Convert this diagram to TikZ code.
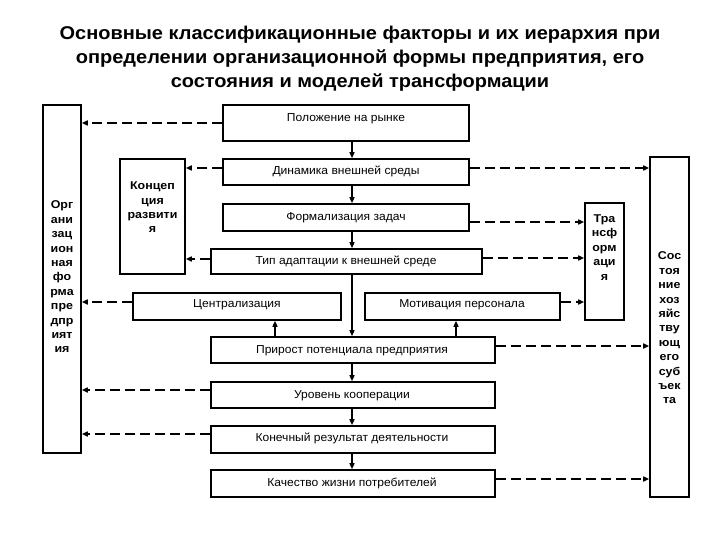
\documentclass[tikz,border=0pt]{standalone}
\usepackage{fontspec}
\setmainfont{Liberation Sans}
\newfontfamily\titlefont[FakeStretch=1.08]{Liberation Sans}
\newfontfamily\lblfont[FakeStretch=1.05]{Liberation Sans}
\newfontfamily\vfont[FakeStretch=1.1]{Liberation Sans}
\usetikzlibrary{fit,arrows.meta}
\tikzset{
  box/.style={draw, line width=1.6pt, rectangle, inner sep=0pt},
  lbl/.style={font=\lblfont\fontsize{11.5}{13}\selectfont, inner sep=0pt},
  vlbl/.style={font=\vfont\bfseries\fontsize{11.3}{14.4}\selectfont, align=center, inner sep=0pt},
  sarrow/.style={line width=1.4pt, -{Triangle[length=6pt,width=5pt]}},
  darrow/.style={line width=2pt, dash pattern=on 10pt off 5pt, -{Triangle[length=6pt,width=5pt]}},
  up/.style={transform canvas={yshift=#1}},
}
\begin{document}
\begin{tikzpicture}[x=1pt,y=-1pt]
\useasboundingbox (0,0) rectangle (720,540);
\node[font=\titlefont\bfseries\fontsize{18.5}{24}\selectfont, align=center] (title) at (360,59)
  {Основные классификационные факторы и их иерархия при\\
   определении организационной формы предприятия, его\\
   состояния и моделей трансформации};
% boxes
\node[box, fit={(43,105)(81,453)}] (L) {};
\node[vlbl] (LT) at (62,277) {Орг\\ани\\зац\\ион\\ная\\фо\\рма\\пре\\дпр\\ият\\ия};
\node[box, fit={(120,159)(185,274)}] (K) {};
\node[vlbl] (KT) at (152.5,207.5) {Концеп\\ция\\развити\\я};
\node[box, fit={(223,105)(469,141)}] (P) {};
\node[lbl] (PT) at (346,118.5) {Положение на рынке};
\node[box, fit={(223,159)(469,185)}] (D) {};
\node[lbl] (DT) at (346,171.5) {Динамика внешней среды};
\node[box, fit={(223,204)(469,231)}] (F) {};
\node[lbl] (FT) at (346,217.5) {Формализация задач};
\node[box, fit={(211,249)(482,274)}] (T) {};
\node[lbl] (TT) at (346,261.5) {Тип адаптации к внешней среде};
\node[box, fit={(133,293)(341,320)}] (C) {};
\node[lbl] (CT) at (237,304.5) {Централизация};
\node[box, fit={(365,293)(560,320)}] (M) {};
\node[lbl] (MT) at (462,304.5) {Мотивация персонала};
\node[box, fit={(211,337)(495,363)}] (Pr) {};
\node[lbl] (PrT) at (352,350.5) {Прирост потенциала предприятия};
\node[box, fit={(211,382)(495,408)}] (U) {};
\node[lbl] (UT) at (352,395.5) {Уровень кооперации};
\node[box, fit={(211,426)(495,453)}] (Kon) {};
\node[lbl] (KonT) at (352,438.5) {Конечный результат деятельности};
\node[box, fit={(211,470)(495,497)}] (Kach) {};
\node[lbl] (KachT) at (352,483.5) {Качество жизни потребителей};
\node[box, fit={(585,203)(624,320)}] (Tr) {};
\node[vlbl] (TrT) at (604.5,247.5) {Тра\\нсф\\орм\\аци\\я};
\node[box, fit={(650,157)(689,497)}] (S) {};
\node[vlbl] (ST) at (669.5,328) {Сос\\тоя\\ние\\хоз\\яйс\\тву\\ющ\\его\\суб\\ъек\\та};
% solid arrows
\coordinate (ax) at (352,0);
\coordinate (ac) at (275,0);
\coordinate (am) at (456,0);
\draw[sarrow] (P.south -| ax) -- (D.north -| ax);
\draw[sarrow] (D.south -| ax) -- (F.north -| ax);
\draw[sarrow] (F.south -| ax) -- (T.north -| ax);
\draw[sarrow] (T.south -| ax) -- (Pr.north -| ax);
\draw[sarrow] (Pr.south -| ax) -- (U.north -| ax);
\draw[sarrow] (U.south -| ax) -- (Kon.north -| ax);
\draw[sarrow] (Kon.south -| ax) -- (Kach.north -| ax);
\draw[sarrow] (Pr.north -| ac) -- (C.south -| ac);
\draw[sarrow] (Pr.north -| am) -- (M.south -| am);
% dashed arrows left
\draw[darrow] (P.west) -- (L.east |- P.west);
\draw[darrow, up=4pt] (D.west) -- (K.east |- D.west);
\draw[darrow, up=2.5pt] (T.west) -- (K.east |- T.west);
\draw[darrow, up=4.5pt] (C.west) -- (L.east |- C.west);
\draw[darrow, up=5pt] (U.west) -- (L.east |- U.west);
\draw[darrow, up=5.5pt] (Kon.west) -- (L.east |- Kon.west);
% dashed arrows right
\draw[darrow, up=4pt] (D.east) -- (S.west |- D.east);
\draw[darrow, up=-4.5pt] (F.east) -- (Tr.west |- F.east);
\draw[darrow, up=3.5pt] (T.east) -- (Tr.west |- T.east);
\draw[darrow, up=4.5pt] (M.east) -- (Tr.west |- M.east);
\draw[darrow, up=4pt] (Pr.east) -- (S.west |- Pr.east);
\draw[darrow, up=4.5pt] (Kach.east) -- (S.west |- Kach.east);
\end{tikzpicture}
\end{document}
